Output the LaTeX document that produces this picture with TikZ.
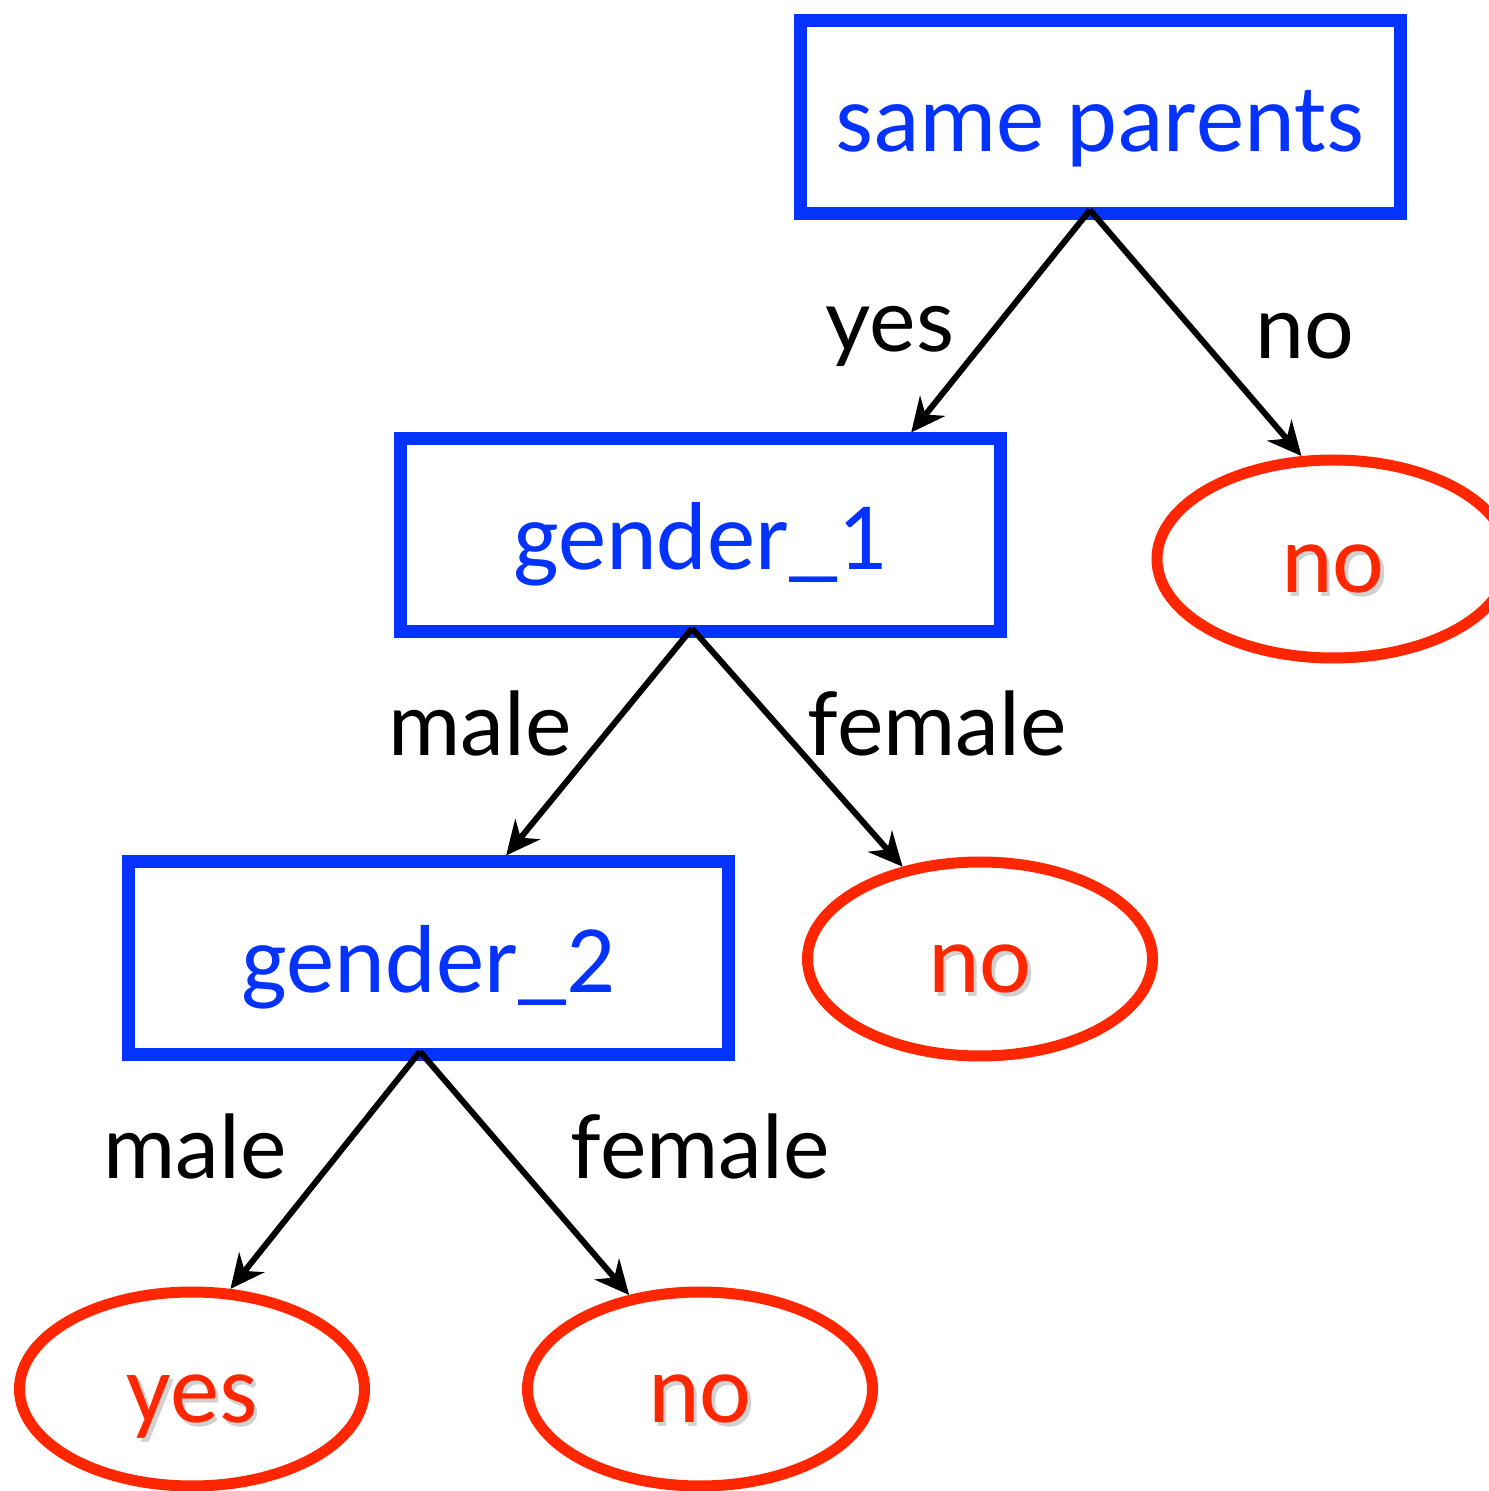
\documentclass[tikz,border=0pt]{standalone}
\usepackage{fontspec}
\usepackage{xcolor}
\usepackage{tikz}
\usetikzlibrary{arrows.meta, positioning, shapes.geometric}
\setmainfont{Carlito}
\newfontfamily\labelfont{Lato}
\definecolor{testblue}{RGB}{4,51,255}
\definecolor{leafred}{RGB}{255,38,0}
\newcommand{\shadowed}[1]{\rlap{\hspace{1pt}\raisebox{-1pt}{\textcolor{black!18}{#1}}}#1}

\begin{document}
\begin{tikzpicture}[
    test/.style={rectangle, draw=testblue, line width=0.13cm, text=testblue, font=\fontsize{27.5}{33}\selectfont, text height=0.69cm, text depth=0pt, minimum width=6cm, minimum height=1.93cm},
    leaf/.style={ellipse, draw=leafred, line width=0.11cm, text=leafred, font=\fontsize{28}{33}\selectfont, text height=0.68cm, text depth=0pt, minimum width=3.45cm, minimum height=1.94cm, inner sep=0pt},
    branch/.style={font=\labelfont\fontsize{25}{30}\selectfont},
    arr/.style={-{Stealth[length=3.4mm, width=3.2mm]}, line width=0.06cm}
]
\useasboundingbox (0,0) rectangle (14.88,14.91);
\node[test] (sp) at (11.00,13.74) {same parents};
\node[test] (g1) at (7.00,9.555) {gender\_1};
\node[test] (g2) at (4.285,5.325) {gender\_2};
\node[leaf, minimum width=3.52cm, minimum height=1.98cm] (noR) at (13.33,9.32) {\shadowed{no}};
\node[leaf] (noM) at (9.80,5.32) {\shadowed{no}};
\node[leaf] (yesL) at (1.92,1.02) {\shadowed{yes}};
\node[leaf] (noB) at (7.00,1.02) {\shadowed{no}};
\node[branch] (lyes) at (8.90,11.55) {yes};
\node[branch] (lno) at (13.05,11.55) {no};
\node[branch] (lmale1) at (4.80,7.68) {male};
\node[branch] (lfemale1) at (9.37,7.68) {female};
\node[branch] (lmale2) at (1.95,3.45) {male};
\node[branch] (lfemale2) at (7.00,3.45) {female};
\draw[arr] ([xshift=-1mm, yshift=1mm]sp.south) -- (g1.26);
\draw[arr] ([xshift=-1mm, yshift=1mm]sp.south) -- (noR.107);
\draw[arr] ([xshift=-0.8mm, yshift=1mm]g1.south) -- (g2.53);
\draw[arr] ([xshift=-0.8mm, yshift=1mm]g1.south) -- (noM.130);
\draw[arr] ([xshift=-0.85mm, yshift=1mm]g2.south) -- (yesL.69);
\draw[arr] ([xshift=-0.85mm, yshift=1mm]g2.south) -- (noB.127);
\end{tikzpicture}
\end{document}
